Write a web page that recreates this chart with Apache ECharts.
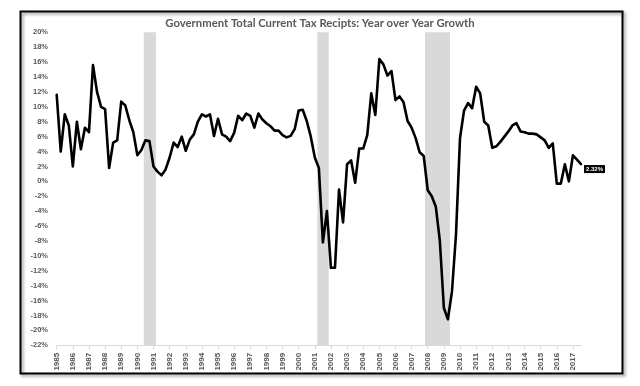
<!DOCTYPE html>
<html>
<head>
<meta charset="utf-8">
<script src="https://cdn.jsdelivr.net/npm/echarts@6/dist/echarts.min.js"></script>
<style>html,body{margin:0;padding:0;background:#fff}#c{width:640px;height:386px}</style>
</head>
<body>
<div id="c"></div>
<script>
var titleText = 'Government Total Current Tax Recipts: Year over Year Growth';
var startYear = 1985;
// quarterly YoY growth (%), 1985Q1 .. 2017Q3
var values = [
  11.6, 4.0, 9.0, 7.5,   2.0, 8.0, 4.3, 7.2,   6.6, 15.6, 12.0, 10.0,
  9.7, 1.8, 5.2, 5.5,    10.7, 10.2, 8.2, 6.6, 3.5, 4.2, 5.5, 5.4,
  2.0, 1.3, 0.8, 1.6,    3.2, 5.2, 4.6, 6.0,   4.1, 5.6, 6.3, 8.0,
  9.0, 8.7, 9.0, 6.1,    8.4, 6.3, 6.0, 5.4,   6.5, 8.8, 8.2, 9.1,
  8.8, 7.2, 9.1, 8.3,    7.8, 7.4, 6.8, 6.8,   6.2, 5.9, 6.1, 7.0,
  9.5, 9.6, 8.1, 6.0,    3.2, 1.8, -8.2, -4.0, -11.6, -11.6, -1.1, -5.5,
  2.3, 2.8, -0.2, 4.4,   4.4, 6.2, 11.8, 8.9,  16.4, 15.7, 14.2, 14.8,
  10.9, 11.4, 10.6, 8.1, 7.2, 5.8, 3.9, 3.4,   -1.2, -2.0, -3.4, -8.0,
  -17.0, -18.5, -14.8, -7.2, 5.8, 9.5, 10.5, 9.8, 12.7, 11.8, 8.0, 7.5,
  4.5, 4.7, 5.3, 6.0,    6.7, 7.5, 7.8, 6.7,   6.6, 6.4, 6.4, 6.3,
  5.9, 5.5, 4.5, 5.1,    -0.3, -0.3, 2.3, 0.0, 3.5, 2.9, 2.32
];
var lastLabel = '2.32%';
var yearTicks = [1985,1986,1987,1988,1989,1990,1991,1992,1993,1994,1995,1996,1997,1998,1999,2000,2001,2002,2003,2004,2005,2006,2007,2008,2009,2010,2011,2012,2013,2014,2015,2016,2017];
var recessionStarts = [1990.4, 2001.16, 2007.83];
var recessionEnds   = [1991.15, 2001.86, 2009.38];
var yTicksMin = -22, yTicksMax = 20, yTickStep = 2;

var quarters = values.map(function (v, i) { return startYear + i / 4; });
var seriesData = values.map(function (v, i) { return [quarters[i], v]; });
var xMax = quarters[quarters.length - 1];

var chart = echarts.init(document.getElementById('c'), null, {renderer: 'canvas'});
var gray = '#595959';
chart.setOption({
  animation: false,
  title: {
    text: titleText, left: 'center', top: 13,
    textStyle: {fontFamily: 'Lato', fontWeight: 'bold', fontSize: 11.3, color: gray}
  },
  grid: {left: 56.7, right: 59, top: 32.3, bottom: 40.7},
  xAxis: [{
    type: 'value', min: startYear, max: xMax, interval: 1,
    axisLine: {show: false}, axisTick: {show: false}, splitLine: {show: false},
    axisLabel: {
      rotate: 90, margin: 7.5, customValues: yearTicks,
      fontFamily: 'Liberation Sans', fontWeight: 'bold', fontSize: 8, color: gray,
      formatter: function (v) { return String(v); }
    }
  }, {
    type: 'value', min: startYear, max: xMax, interval: 1, position: 'bottom',
    axisLine: {show: true, onZero: true, lineStyle: {color: '#d9d9d9', width: 1}},
    axisTick: {show: true, inside: false, length: 4, customValues: yearTicks, lineStyle: {color: '#d9d9d9'}},
    axisLabel: {show: false}, splitLine: {show: false}
  }],
  yAxis: {
    type: 'value', min: yTicksMin, max: yTicksMax, interval: yTickStep,
    axisLine: {show: false}, axisTick: {show: false}, splitLine: {show: false},
    axisLabel: {
      margin: 8.7, fontFamily: 'Liberation Sans', fontWeight: 'bold', fontSize: 7.5, color: gray,
      formatter: '{value}%'
    }
  },
  series: [{
    type: 'line', data: seriesData, xAxisIndex: 0, yAxisIndex: 0,
    showSymbol: false, symbol: 'none',
    lineStyle: {color: '#000', width: 2.6, join: 'round', cap: 'round'},
    z: 3,
    endLabel: {
      show: true, formatter: function () { return lastLabel; },
      backgroundColor: '#000', color: '#fff', fontFamily: 'Liberation Sans',
      fontWeight: 'bold', fontSize: 6, padding: [1, 2, 1, 2], distance: 3, offset: [0, 5]
    },
    markArea: {
      silent: true,
      itemStyle: {color: '#d9d9d9'},
      data: recessionStarts.map(function (s, i) {
        return [{xAxis: s}, {xAxis: recessionEnds[i]}];
      })
    }
  }],
  graphic: [{
    type: 'rect', left: 18, top: 9, z: 100, silent: true,
    shape: {width: 602, height: 362},
    style: {fill: null, stroke: '#000', lineWidth: 2,
            shadowBlur: 3, shadowOffsetX: 2, shadowOffsetY: 2, shadowColor: 'rgba(0,0,0,0.4)'}
  }]
});
</script>
</body>
</html>
